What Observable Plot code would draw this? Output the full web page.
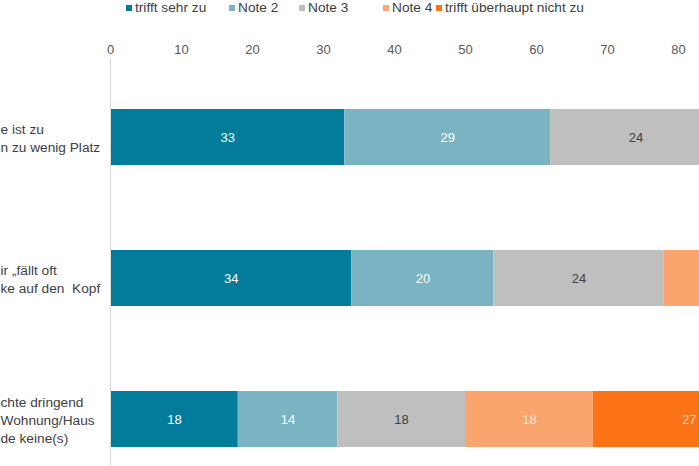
<!DOCTYPE html>
<html>
<head>
<meta charset="utf-8">
<script src="https://cdn.jsdelivr.net/npm/d3@7"></script>
<script src="https://cdn.jsdelivr.net/npm/@observablehq/plot@0.6"></script>
<style>
  html, body { margin: 0; padding: 0; background: #fff; }
  #wrap { position: relative; width: 699px; height: 466px; overflow: hidden; font-family: "Liberation Sans", Arial, sans-serif; }
  #chart { position: absolute; left: 0; top: 0; width: 699px; }
  #chart svg { max-width: none !important; }
  #legend { position: absolute; left: 0; top: 0; width: 699px; height: 16px; font-size: 13.7px; color: #404040; }
  .item { position: absolute; top: 0; white-space: nowrap; line-height: 15px; }
  .sw { display: inline-block; width: 6px; height: 6px; margin-right: 3px; vertical-align: 1px; }
</style>
</head>
<body>
<div id="wrap">
  <div id="chart"></div>
  <div id="legend"></div>
</div>
<script>
// Categories (visible fragments of the labels; the original is cropped at the left)
const categories = [
  "e ist zu\nn zu wenig Platz",
  "ir „fällt oft\nke auf den  Kopf",
  "chte dringend\nWohnung/Haus\nde keine(s)"
];
const notes = ["trifft sehr zu", "Note 2", "Note 3", "Note 4", "trifft überhaupt nicht zu"];
// Series values (percent) per category
const trifftSehrZu = [33, 34, 18];
const note2 = [29, 20, 14];
const note3 = [24, 24, 18];
const note4 = [8, 12, 18];
const trifftNicht = [6, 10, 27];
const ticks = [0, 10, 20, 30, 40, 50, 60, 70, 80];

const colors = ["#037C9C", "#7AB4C2", "#BFBFBF", "#FBA56E", "#FB7217"];
const textColors = ["#ffffff", "#ffffff", "#404040", "#FDE6D4", "#FDDCC0"];

const xMax = 82.96; // visible part of the axis in the (cropped) reference

const series = [trifftSehrZu, note2, note3, note4, trifftNicht];
const data = [];
categories.forEach((c, i) => {
  let cum = 0;
  notes.forEach((n, j) => {
    const v = series[j][i];
    data.push({cat: c, note: n, idx: j, value: v, mid: cum + v / 2});
    cum += v;
  });
});

const font = "Liberation Sans, Arial, sans-serif";

const chart = Plot.plot({
  width: 699,
  height: 466,
  marginLeft: 110,
  marginRight: 0,
  marginTop: 58,
  marginBottom: 0,
  style: {fontFamily: font, background: "#fff", maxWidth: "none"},
  x: {domain: [0, xMax], axis: null},
  y: {domain: categories, range: [24, 532.5], padding: 0.606, axis: null},
  color: {type: "identity"},
  marks: [
    Plot.axisX(ticks, {anchor: "top", label: null, tickSize: 0, tickPadding: 5, fontSize: 13, fill: "#595959", tickFormat: d => d}),
    Plot.barX(data, Plot.stackX({x: "value", y: "cat", z: "idx", order: null, fill: d => colors[d.idx], clip: true})),
    Plot.text(data, Plot.stackX({x: "value", y: "cat", z: "idx", order: null, text: d => (d.mid <= xMax ? String(d.value) : ""), fill: d => textColors[d.idx], fontSize: 13, clip: true})),
    Plot.ruleX([0], {stroke: "#D9D9D9", strokeWidth: 1}),
    Plot.text(categories, {y: d => d, text: d => d, frameAnchor: "left", dx: -110, textAnchor: "start", lineHeight: 1.3, fontSize: 13.7, fill: "#404040"})
  ]
});
document.getElementById("chart").appendChild(chart);

// Legend
const legendLeft = [126, 229, 299, 383, 436];
const legend = document.getElementById("legend");
notes.forEach((n, j) => {
  const it = document.createElement("div");
  it.className = "item";
  it.style.left = legendLeft[j] + "px";
  const sw = document.createElement("span");
  sw.className = "sw";
  sw.style.background = colors[j];
  it.appendChild(sw);
  it.appendChild(document.createTextNode(n));
  legend.appendChild(it);
});
</script>
</body>
</html>
